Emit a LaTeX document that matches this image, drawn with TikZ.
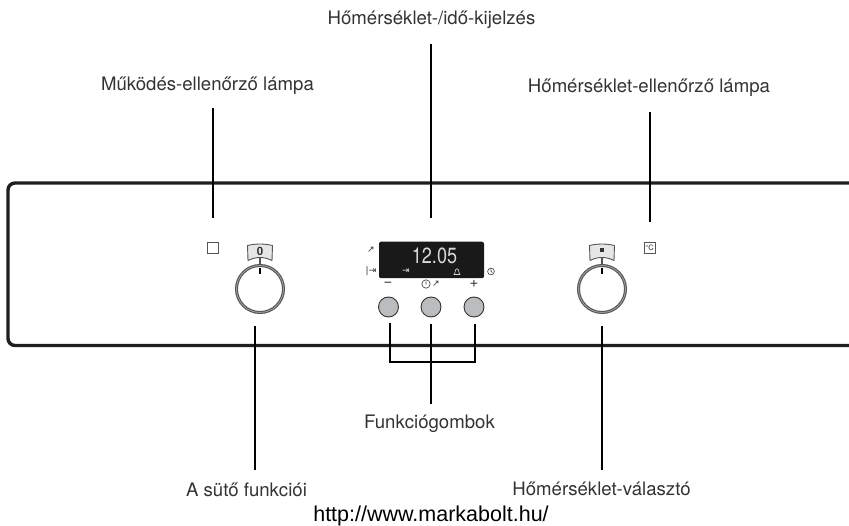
\documentclass[tikz,border=0pt]{standalone}
\usepackage{fontspec}
\setmainfont{TeX Gyre Heros}
\newfontfamily\urlfont{Liberation Sans}
\newfontfamily\symfont{DejaVu Sans}
\definecolor{ink}{HTML}{333333}
\definecolor{ring}{HTML}{555555}
\definecolor{btn}{HTML}{BBBCBE}
\definecolor{tabfill}{HTML}{E6E6E6}
\tikzset{
  lbl/.style={inner sep=0pt,anchor=base,text=ink,font=\fontsize{18.6}{20}\selectfont},
  url/.style={inner sep=0pt,anchor=base,text=black,font=\urlfont\fontsize{21.5}{23}\selectfont},
  leader/.style={draw=black,line width=1.7pt},
  panel/.style={draw=black!88,line width=3.4pt,rounded corners=7pt},
  knob/.style={circle,draw=ring,line width=1.1pt,double=ring!55,double distance=0.8pt,minimum size=47pt,inner sep=0pt,fill=white},
  pushbtn/.style={circle,draw=ink,line width=0.9pt,fill=btn,minimum size=20pt,inner sep=0pt},
  iconbox/.style={draw=ring,line width=0.9pt,fill=white},
  tick/.style={draw=black,line width=2.6pt},
  tinyicon/.style={inner sep=0pt,text=ink,font=\symfont\fontsize{9}{9}\selectfont},
  dispicon/.style={inner sep=0pt,text=white!85!black,font=\symfont\fontsize{9}{9}\selectfont},
  thinsym/.style={draw=ink,line width=0.6pt},
  bell/.style={draw=white!85!black,line width=0.6pt}
}
\begin{document}
\begin{tikzpicture}[x=1pt,y=-1pt]
\useasboundingbox (0,0) rectangle (849,526);
% panel
\draw[panel] (849,183) -- (8,183) -- (8,345.5) -- (849,345.5);
% labels
\node[lbl] (t1) at (431.5,25) {Hőmérséklet-/idő-kijelzés};
\node[lbl] (t2) at (207.5,90.7) {Működés-ellenőrző lámpa};
\node[lbl] (t3) at (649,93) {Hőmérséklet-ellenőrző lámpa};
\node[lbl] (t4) at (429.5,429) {Funkciógombok};
\node[lbl] (t5) at (246.5,496.5) {A sütő funkciói};
\node[lbl] (t6) at (601.5,496) {Hőmérséklet-választó};
\node[url] (t7) at (431,521) {http://www.markabolt.hu/};
% lamps
\node[iconbox,minimum size=11pt,inner sep=0pt] (lamp1) at (213,247.5) {};
\node[iconbox,minimum size=11pt,inner sep=0pt,font=\fontsize{7.5}{7.5}\selectfont,text=ink] (lamp2) at (649.5,248) {°C};
% knobs
\node[knob] (k1) at (260,289) {};
\node[knob] (k2) at (602,289) {};
\foreach \c/\n in {260/a,602/b}{
  \draw[draw=ring,line width=0.9pt,fill=tabfill] (\c-12.5,245.5) .. controls (\c-4,243.5) and (\c+4,243.5) .. (\c+12.5,245.5)
     -- (\c+12,260.5) .. controls (\c+4,256.5) and (\c-4,256.5) .. (\c-12,260.5) -- cycle;
  \draw[draw=ring,line width=1.4pt] (\c,258) -- (\c,265);
  \draw[tick] (\c,268) -- (\c,274);
}
\node[inner sep=0pt,font=\bfseries\fontsize{11.5}{11.5}\selectfont,text=ink] (zero) at (260,251.5) {0};
\node[fill=ink,minimum size=4pt,inner sep=0pt] (dot) at (602,250.5) {};
% display
\node[fill=black!90,rounded corners=2pt,minimum width=105pt,minimum height=36.5pt,inner sep=0pt] (disp) at (431.5,260) {};
\node[inner sep=0pt,text=white!85!black,font=\fontsize{22}{22}\selectfont] (time) at (434.5,256) {\scalebox{0.82}[1]{12.05}};
\node[dispicon] (d1) at (406,271.5) {⇥};
\draw[bell] (454,274.5) -- (460,274.5) -- (459,272.5) .. controls (459,267.5) and (455,267.5) .. (455,272.5) -- cycle;
% side icons
\node[tinyicon] (i1) at (371,249.5) {↗};
\node[tinyicon] (i2) at (371,271.5) {|⇥};
\draw[thinsym] (491,271.5) circle (3.4pt) (491,269.5) -- (491,271.5) -- (492.5,272.5);
% button signs
\node[inner sep=0pt,text=ink,font=\fontsize{15}{15}\selectfont] (minus) at (388,284) {−};
\draw[thinsym] (426,284) circle (4.2pt) (426,281.5) -- (426,284.5);
\node[inner sep=0pt,text=ink,font=\symfont\fontsize{9}{9}\selectfont] (mid) at (436,284) {↗};
\node[inner sep=0pt,text=ink,font=\fontsize{15}{15}\selectfont] (plus) at (474,284) {+};
% buttons
\node[pushbtn] (b1) at (388.5,307) {};
\node[pushbtn] (b2) at (431,307) {};
\node[pushbtn] (b3) at (474,307) {};
% leaders
\coordinate (a1) at (430.9,44); \coordinate (a2) at (430.9,218);
\coordinate (c1) at (213,108); \coordinate (c2) at (213,218);
\coordinate (e1) at (650,112); \coordinate (e2) at (650,222);
\coordinate (f1) at (255,326); \coordinate (f2) at (255,470);
\coordinate (g1) at (602,326); \coordinate (g2) at (602,470);
\coordinate (h1) at (390,323); \coordinate (h3) at (475,324);
\coordinate (h2) at (431,324); \coordinate (h4) at (431,404);
\draw[leader] (a1) -- (a2);
\draw[leader] (c1) -- (c2);
\draw[leader] (e1) -- (e2);
\draw[leader] (f1) -- (f2);
\draw[leader] (g1) -- (g2);
\draw[leader] (h1) -- (390,362) -- (475,362) -- (h3);
\draw[leader] (h2) -- (h4);
\end{tikzpicture}
\end{document}
